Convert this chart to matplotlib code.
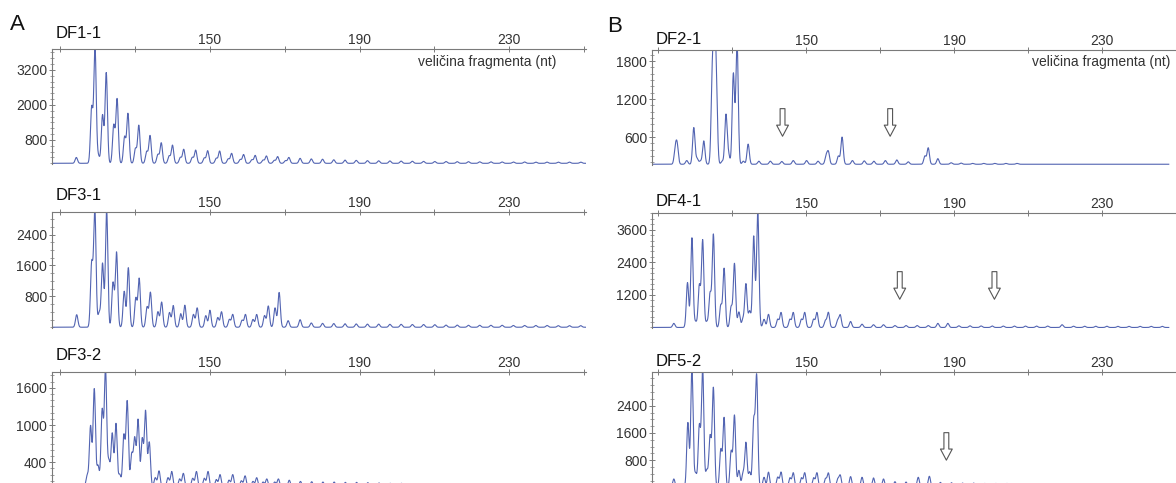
import numpy as np
import matplotlib
matplotlib.use("Agg")
import matplotlib.pyplot as plt
from matplotlib.ticker import MultipleLocator

plt.rcParams['font.family'] = ['Liberation Sans', 'DejaVu Sans']

# ---------------- data (fragment size in nt, signal in RFU) ----------------
df11_nt = [114.3, 118.4, 119.3, 120.2, 121.3, 122.3, 124.3, 125.2, 127.2, 128.1,
           130.1, 131.0, 133.1, 134.0, 136.1, 137.0, 139.1, 140.0, 142.1, 143.0,
           145.3, 146.2, 148.5, 149.4, 151.7, 152.6, 154.9, 155.8, 158.1, 159.0,
           161.2, 162.1, 164.2, 165.1, 167.2, 168.1, 170.2, 171.1, 174.1, 177.1,
           180.1, 183.1, 186.1, 189.1, 192.1, 195.1, 198.1, 201.1, 204.1, 207.1,
           210.1, 213.1, 216.1, 219.1, 222.1, 225.1, 228.1, 231.1, 234.1, 237.1,
           240.1, 243.1, 246.1, 249.1]
df11_rfu = [200, 1900, 3950, 250, 1650, 3100, 1300, 2200, 900, 1700,
            500, 1300, 400, 950, 300, 700, 250, 620, 200, 480,
            200, 450, 180, 430, 170, 420, 150, 340, 130, 300,
            120, 270, 110, 250, 100, 230, 90, 200, 170, 150,
            140, 120, 110, 100, 90, 85, 80, 75, 70, 65,
            60, 60, 55, 55, 50, 50, 45, 45, 45, 40,
            40, 40, 40, 40]

df31_nt = [114.4, 118.4, 119.25, 120.4, 121.3, 122.4, 124.1, 125.05, 127.1, 128.2,
           130.2, 131.1, 133.2, 134.1, 136.1, 137.1, 139.2, 140.2, 142.2, 143.3,
           145.6, 146.6, 148.9, 150.0, 152.1, 153.1, 155.2, 156.1, 158.6, 159.5,
           161.5, 162.5, 164.6, 165.6, 167.4, 168.5, 170.9, 174.1, 177.1, 180.1,
           183.1, 186.1, 189.1, 192.1, 195.1, 198.1, 201.1, 204.1, 207.1, 210.1,
           213.1, 216.1, 219.1, 222.1, 225.1, 228.1, 231.1, 234.1, 237.1, 240.1,
           243.1, 246.1, 249.1]
df31_rfu = [325, 1640, 3050, 370, 1650, 3050, 1150, 1940, 930, 1540,
            750, 1260, 520, 900, 400, 650, 380, 560, 350, 570,
            330, 500, 300, 440, 250, 400, 200, 330, 180, 330,
            200, 330, 300, 550, 500, 900, 170, 195, 110, 100,
            95, 90, 85, 80, 80, 75, 75, 70, 70, 65,
            55, 55, 50, 50, 50, 50, 45, 45, 45, 45,
            40, 40, 40]

df32_nt = [117.2, 118.1, 119.1, 120.1, 121.2, 122.1, 123.0, 123.9, 124.9, 125.9,
           127.0, 127.9, 129.1, 129.9, 130.8, 131.9, 132.8, 133.8, 135.4, 136.4,
           138.8, 139.8, 141.9, 142.9, 145.4, 146.4, 148.5, 149.5, 151.7, 152.7,
           155.1, 156.1, 158.4, 159.4, 161.5, 162.5, 164.2, 165.2, 167.3, 168.3,
           171.2, 174.2, 177.2, 180.2, 183.2, 186.2, 189.2, 192.2, 195.2, 198.2,
           201.2, 204.2, 207.2, 210.2, 213.2, 216.2, 219.2, 222.2, 225.2, 228.2,
           231.2, 234.2, 237.2, 240.2, 243.2, 246.2, 249.2]
df32_rfu = [180, 980, 1580, 340, 1230, 1900, 400, 860, 1020, 200,
            830, 1380, 520, 770, 1080, 770, 1220, 720, 150, 260,
            150, 250, 130, 220, 140, 250, 140, 250, 120, 200,
            110, 200, 100, 180, 90, 150, 80, 130, 80, 130,
            110, 90, 85, 80, 80, 75, 75, 70, 65, 60,
            60, 55, 55, 50, 50, 50, 45, 45, 45, 45,
            40, 40, 40, 40, 40, 40, 40]

df21_nt = [114.6, 115.1, 117.7, 119.6, 120.5, 121.4, 122.3, 124.6, 125.2, 125.7,
           127.3, 128.3, 129.0, 130.3, 131.3, 133.0, 134.3, 137.2, 140.3, 143.4,
           146.5, 150.1, 153.2, 155.4, 156.0, 158.7, 159.7, 162.5, 165.7, 168.3,
           171.4, 174.5, 177.6, 182.1, 183.0, 185.6, 189.2, 191.9, 195.0, 198.0,
           201.0, 204.0, 207.0]
df21_rfu = [400, 460, 230, 750, 260, 220, 540, 1500, 1930, 1200,
            220, 950, 320, 1600, 2100, 220, 490, 220, 220, 215,
            230, 230, 220, 300, 360, 300, 600, 230, 225, 220,
            230, 240, 210, 300, 430, 260, 195, 190, 185, 185,
            185, 185, 185]
df21_base = 172

df41_nt = [114.2, 117.9, 119.1, 120.1, 121.1, 122.0, 123.1, 124.0, 124.9, 126.9,
           127.8, 129.7, 130.6, 131.8, 132.9, 133.7, 134.7, 135.8, 136.9, 138.6,
           139.8, 142.3, 143.2, 145.6, 146.5, 148.7, 149.6, 152.0, 152.9, 155.2,
           156.0, 158.5, 159.2, 162.0, 165.1, 168.2, 170.9, 174.0, 177.0, 180.0,
           183.0, 185.6, 188.3, 191.3, 194.3, 197.3, 200.3, 203.3, 206.3, 209.3,
           212.3, 215.3, 219.2, 222.3, 225.3, 228.3, 231.3, 234.3, 237.3, 240.3,
           243.3, 246.3]
df41_rfu = [150, 1650, 3300, 200, 1540, 3210, 200, 1240, 3420, 810,
            2170, 750, 2350, 570, 300, 1600, 600, 3360, 4300, 300,
            485, 300, 550, 300, 550, 300, 550, 300, 550, 250,
            550, 250, 450, 220, 120, 100, 100, 70, 70, 70,
            70, 150, 150, 60, 60, 55, 55, 50, 50, 50,
            50, 50, 100, 45, 45, 45, 45, 40, 40, 40,
            40, 40]

df52_nt = [114.2, 118.0, 119.1, 120.1, 121.1, 122.0, 123.1, 124.0, 124.9, 126.9,
           127.8, 129.7, 130.6, 131.8, 132.9, 133.7, 134.7, 135.8, 136.6, 138.6,
           139.8, 142.3, 143.2, 145.6, 146.5, 148.7, 149.6, 152.0, 152.9, 155.2,
           156.0, 158.5, 159.2, 162.0, 165.1, 168.2, 170.9, 174.0, 177.0, 180.3,
           183.3, 186.3, 189.3, 192.3, 195.3, 198.3, 201.3, 204.3, 207.3, 210.3,
           213.3, 216.3, 219.3, 222.3, 225.3, 228.3, 231.3, 234.3, 237.3, 240.3,
           243.3, 246.3]
df52_rfu = [250, 1900, 3500, 400, 1800, 3500, 500, 1485, 2915, 1100,
            2040, 1050, 2110, 500, 400, 1310, 450, 1915, 3250, 300,
            450, 300, 450, 280, 430, 280, 430, 280, 430, 250,
            420, 230, 350, 320, 300, 280, 250, 170, 160, 300,
            330, 150, 140, 130, 130, 120, 120, 120, 110, 110,
            110, 100, 100, 100, 100, 100, 100, 100, 100, 100,
            100, 100]

size_ticks = [110, 130, 150, 170, 190, 210, 230, 250]
size_labels = ['', '', '150', '', '190', '', '230', '']

panels = [
    # name, nt, rfu, baseline, yticks, ylim, minor step
    ('DF1-1', df11_nt, df11_rfu, 0, [800, 2000, 3200], (-24, 3919), 200),
    ('DF3-1', df31_nt, df31_rfu, 0, [800, 1600, 2400], (-20, 2985), 200),
    ('DF3-2', df32_nt, df32_rfu, 0, [400, 1000, 1600], (-16, 1856), 100),
    ('DF2-1', df21_nt, df21_rfu, df21_base, [600, 1200, 1800], (160, 1975), 100),
    ('DF4-1', df41_nt, df41_rfu, 0, [1200, 2400, 3600], (-20, 4215), 200),
    ('DF5-2', df52_nt, df52_rfu, 0, [800, 1600, 2400], (-15, 3390), 200),
]
arrows_nt = {'DF2-1': [143.6, 172.7], 'DF4-1': [175.3, 200.9], 'DF5-2': [187.9]}
xlabel_text = 'veličina fragmenta (nt)'

# ---------------- layout (pixel boxes) ----------------
W, H = 1176, 483
fig = plt.figure(figsize=(W / 100, H / 100), dpi=100)

col_box = [(52, 586, (107.8, 250.5)), (652, 1176, (108.3, 248.05))]
row_box = [[(49, 164), (212, 328), (372, 488)], [(50, 165), (213, 328), (372, 488)]]

line_col = '#5264b2'
spine_col = '#7a7a7a'

for i, (name, nt, rfu, base, yt, yl, mstep) in enumerate(panels):
    c = i // 3
    r = i % 3
    left, right, xl = col_box[c]
    top, bottom = row_box[c][r]
    ax = fig.add_axes([left / W, 1 - bottom / H, (right - left) / W, (bottom - top) / H])
    x = np.arange(xl[0], xl[1], 0.03)
    y = np.full_like(x, float(base))
    for p, h in zip(nt, rfu):
        y += (h - base) * np.exp(-0.5 * ((x - p) / 0.32) ** 2)
    ax.plot(x, y, color=line_col, lw=0.8)
    ax.set_xlim(*xl)
    ax.set_ylim(*yl)
    for s in ['right', 'bottom']:
        ax.spines[s].set_visible(False)
    for s in ['top', 'left']:
        ax.spines[s].set_color(spine_col)
        ax.spines[s].set_linewidth(0.8)
    ax.xaxis.tick_top()
    ax.set_xticks(size_ticks)
    ax.set_xticklabels(size_labels)
    ax.set_yticks(yt)
    ax.yaxis.set_minor_locator(MultipleLocator(mstep))
    ax.tick_params(axis='both', which='major', direction='inout', length=4, width=0.7,
                   color=spine_col, labelsize=10, labelcolor='#333333', pad=1.5)
    ax.tick_params(axis='x', which='major', pad=-0.5)
    ax.tick_params(axis='y', which='minor', direction='inout', length=2.5, width=0.5,
                   color=spine_col)
    ttl_off = (16 if c == 0 else 11) / (bottom - top)
    ax.text(0.006, 1 + ttl_off, name, transform=ax.transAxes, ha='left', va='center',
            fontsize=12, color='#111111')
    if r == 0:
        xr = 556 if c == 0 else 1170
        ax.text((xr - left) / (right - left), (bottom - 62) / (bottom - top), xlabel_text,
                transform=ax.transAxes, ha='right', va='center', fontsize=10, color='#333333')
    if name in arrows_nt:
        ytop = 0.49 if r < 2 else 0.477
        ytip = 0.25 if r < 2 else 0.24
        for a in arrows_nt[name]:
            ax.annotate('', xy=(a, ytip), xytext=(a, ytop),
                        xycoords=('data', 'axes fraction'), textcoords=('data', 'axes fraction'),
                        arrowprops=dict(arrowstyle='simple,head_length=0.8,head_width=0.85,tail_width=0.35',
                                        fc='white', ec='#555555', lw=0.8, shrinkA=0, shrinkB=0))

fig.text(10 / W, 1 - 25 / H, 'A', fontsize=16, ha='left', va='center', color='#111111')
fig.text(607 / W, 1 - 27 / H, 'B', fontsize=16, ha='left', va='center', color='#111111')

fig.savefig('out.png', dpi=100)
